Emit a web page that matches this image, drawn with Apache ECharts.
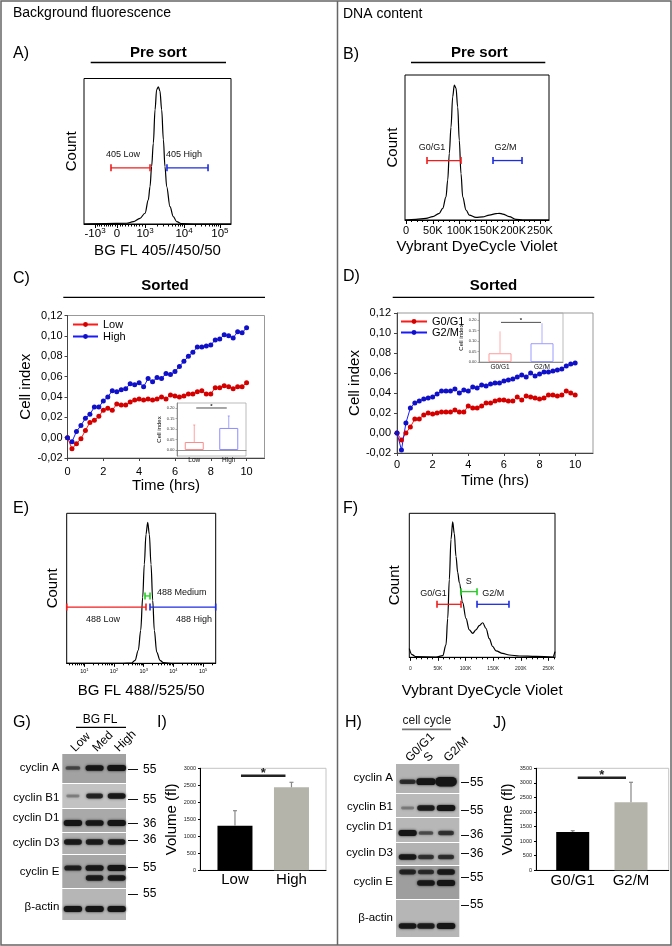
<!DOCTYPE html>
<html><head><meta charset="utf-8">
<script src="https://cdn.jsdelivr.net/npm/echarts@6/dist/echarts.min.js"></script>
<style>html,body{margin:0;padding:0;background:#fff}#c{width:672px;height:946px}</style>
</head><body><div id="c"></div><script>
const FONT = "'Liberation Sans', Arial, Helvetica, sans-serif";

// ---------- DATA ----------
// A) BG FL 405 histogram (display channel 0-1024)
const histA_ch    = [0, 150, 297, 344, 390, 425, 448, 460, 471, 483, 495, 506, 518, 529, 541, 553, 564, 576, 599, 622, 646, 681, 760, 1024];
const histA_count = [0, 0.3, 0.5, 1.6, 3.9, 7.4, 16.6, 25.7, 39.5, 55.6, 78.6, 92.4, 94.3, 91.3, 78.6, 57.9, 39.5, 25.7, 11.9, 5.1, 1.6, 0.2, 0, 0];
const tickA_ch  = [77, 230, 425, 697, 947];
const tickA_lbl = ['-10^3', '0', '10^3', '10^4', '10^5'];
const gateA_low  = [188, 460, 38.6];
const gateA_high = [578, 864, 38.6];
const gateA_text = [['405 Low', 272, 48], ['405 High', 697, 48]];

// B) DNA content pre sort (K units)
const histB_k     = [-2, 18.5, 37.2, 49.7, 62.1, 68.4, 74.6, 77.8, 80.8, 83.9, 87.1, 90.1, 93.3, 96.4, 99.4, 102.6, 105.8, 112, 118.1, 130.6, 143.1, 155.5, 168, 174.1, 180.5, 192.8, 205.3, 217.8, 267];
const histB_count = [0, 0.5, 1.1, 2.3, 4.6, 8.0, 16, 27.6, 46, 64, 85, 93, 91, 78, 55, 32, 16, 6.9, 3.4, 1.8, 2.1, 3.4, 4.4, 4.6, 4.1, 2.3, 0.5, 0, 0];
const tickK     = [0, 50, 100, 150, 200, 250];
const tickK_lbl = ['0', '50K', '100K', '150K', '200K', '250K'];
const gateB_g1 = [39.1, 102.6, 41];
const gateB_g2 = [162.4, 216.6, 41];
const gateB_text = [['G0/G1', 48.4, 49.7], ['G2/M', 185.6, 49.7]];

// C) Sorted by BG fluorescence - cell index
const timeHrs = [0, 0.25, 0.5, 0.75, 1, 1.25, 1.5, 1.75, 2, 2.25, 2.5, 2.75, 3, 3.25, 3.5, 3.75, 4, 4.25, 4.5, 4.75, 5, 5.25, 5.5, 5.75, 6, 6.25, 6.5, 6.75, 7, 7.25, 7.5, 7.75, 8, 8.25, 8.5, 8.75, 9, 9.25, 9.5, 9.75, 10];
const lowC  = [0.000, -0.011, -0.006, -0.001, 0.007, 0.015, 0.017, 0.021, 0.027, 0.029, 0.027, 0.033, 0.032, 0.032, 0.035, 0.037, 0.038, 0.037, 0.038, 0.037, 0.038, 0.040, 0.038, 0.042, 0.041, 0.040, 0.041, 0.043, 0.043, 0.045, 0.046, 0.043, 0.043, 0.049, 0.049, 0.051, 0.050, 0.048, 0.050, 0.050, 0.054];
const highC = [0.000, -0.004, 0.006, 0.012, 0.019, 0.023, 0.030, 0.030, 0.036, 0.040, 0.046, 0.045, 0.047, 0.048, 0.053, 0.052, 0.054, 0.050, 0.058, 0.055, 0.059, 0.058, 0.063, 0.062, 0.065, 0.070, 0.075, 0.080, 0.084, 0.089, 0.089, 0.090, 0.091, 0.096, 0.097, 0.101, 0.100, 0.098, 0.104, 0.103, 0.108];
const insetC_cats = ['Low', 'High'];
const insetC_mean = [0.038, 0.105];
const insetC_err  = [0.081, 0.057];
const insetC_sig  = 0.2;

// D) Sorted by DNA content - cell index
const g1D = [0, -0.007, 0.000, 0.006, 0.014, 0.014, 0.018, 0.020, 0.019, 0.020, 0.021, 0.021, 0.021, 0.023, 0.021, 0.021, 0.027, 0.025, 0.025, 0.027, 0.030, 0.030, 0.032, 0.033, 0.033, 0.032, 0.032, 0.036, 0.033, 0.037, 0.036, 0.035, 0.034, 0.035, 0.038, 0.038, 0.037, 0.038, 0.042, 0.040, 0.038];
const g2D = [0, -0.017, 0.010, 0.025, 0.030, 0.032, 0.034, 0.035, 0.036, 0.039, 0.042, 0.042, 0.042, 0.044, 0.040, 0.043, 0.042, 0.046, 0.045, 0.048, 0.047, 0.049, 0.050, 0.050, 0.052, 0.053, 0.054, 0.056, 0.058, 0.056, 0.060, 0.057, 0.059, 0.061, 0.061, 0.062, 0.063, 0.064, 0.067, 0.069, 0.070];
const insetD_cats = ['G0/G1', 'G2/M'];
const insetD_mean = [0.042, 0.090];
const insetD_err  = [0.105, 0.096];
const insetD_sig  = 0.19;

// E) BG FL 488 (log10 decades)
const histE_exp   = [0.407, 2.3, 2.596, 2.707, 2.818, 2.899, 2.966, 3.020, 3.077, 3.135, 3.189, 3.246, 3.303, 3.357, 3.438, 3.549, 3.660, 4.0, 5.424];
const histE_count = [0, 0, 0.2, 2.0, 8.7, 22, 44, 66, 86, 94, 86, 66, 42, 22, 7.5, 2.0, 0.4, 0, 0];
const tickE_exp = [1, 2, 3, 4, 5];
const gateE_low  = [0.407, 3.077, 37.5];
const gateE_med  = [3.044, 3.212, 44.9];
const gateE_high = [3.212, 5.424, 37.5];
const gateE_text = [['488 Medium', 4.28, 47.5], ['488 Low', 1.63, 29.5], ['488 High', 4.69, 29.5]];

// F) DNA content sorted
const histF_k     = [-2, 2.9, 10.1, 46.4, 58.5, 64.5, 67.6, 70.5, 73.6, 76.6, 79.5, 82.6, 85.7, 88.6, 94.7, 100.7, 106.7, 112.9, 118.8, 124.8, 131, 137, 142.9, 149.1, 155.1, 167.2, 179.2, 197.3, 227.5, 257.8, 262];
const histF_count = [6, 1.8, 0.4, 0.2, 1.1, 8.6, 27, 54, 82, 94, 86, 70, 59, 52, 38, 27, 19, 16.6, 19, 22, 24, 20, 13, 7.5, 4.5, 2.7, 1.6, 0.9, 0.6, 0.2, 4];
const gateF_g1 = [48.2, 91.7, 36.8];
const gateF_s  = [91.7, 120.7, 45.6];
const gateF_g2 = [120.7, 178.6, 36.8];
const gateF_text = [['G0/G1', 42, 44.4], ['S', 105.6, 52.5], ['G2/M', 150.2, 44.4]];

// G) western blot by BG FL (band intensity per lane)
const blotG_lanes = ['Low', 'Med', 'High'];
const blotG_rows  = ['cyclin A', 'cyclin B1', 'cyclin D1', 'cyclin D3', 'cyclin E', 'β-actin'];
const blotG_band  = [[0.35, 0.9, 1.05], [0.08, 0.7, 0.85], [0.95, 0.9, 0.95], [0.85, 0.8, 0.8], [0.75, 0.9, 0.95], [0.95, 0.95, 0.95]];
const blotG_band2 = [null, null, null, null, [0, 0.8, 0.85], null];
const blotG_mw    = ['55', '55', '36', '36', '55', '55'];

// H) western blot by cell cycle
const blotH_lanes = ['G0/G1', 'S', 'G2/M'];
const blotH_rows  = ['cyclin A', 'cyclin B1', 'cyclin D1', 'cyclin D3', 'cyclin E', 'β-actin'];
const blotH_band  = [[0.6, 1.2, 2.0], [0.08, 0.8, 1.0], [0.95, 0.35, 0.55], [0.85, 0.55, 0.6], [0.7, 0.6, 0.85], [0.85, 0.8, 1.0]];
const blotH_band2 = [null, null, null, null, [0, 0.85, 0.95], null];
const blotH_mw    = ['55', '55', '36', '36', '55', '55'];

// I) & J) cell volume
const volI_cats = ['Low', 'High'];
const volI_mean = [1312, 2441];
const volI_err  = [441, 147];
const volI_sig  = 2782;
const volJ_cats = ['G0/G1', 'G2/M'];
const volJ_mean = [1314, 2333];
const volJ_err  = [45, 687];
const volJ_sig  = 3177;

// ---------- LAYOUT (blot geometry, px from blot top) ----------
const layG = {
  lanes: [0.5, 1.52, 2.56],
  rowTop: [0, 30, 55, 79, 101, 135], rowH: [29, 24, 23, 21, 33, 31],
  pos1: [14, 42, 69, 88, 114, 155], pos2: [0, 0, 0, 0, 124, 0],
  labelY: [14.3, 44.3, 63.7, 89.3, 117.7, 153.3],
  mwY: [15.3, 45.3, 69.3, 86, 113.3, 140],
  bg: ['#a2a2a2', '#c2c2c2', '#a9a9a9', '#b0b0b0', '#a6a6a6', '#b6b6b6'], h: 166
};
const layH = {
  lanes: [0.55, 1.42, 2.37],
  rowTop: [0, 30, 54, 79, 102, 136], rowH: [29, 23, 24, 22, 33, 37],
  pos1: [17.7, 44, 69, 93, 108, 162], pos2: [0, 0, 0, 0, 119, 0],
  labelY: [14.3, 42.7, 62.7, 89.3, 117.7, 154.3],
  mwY: [18.7, 46.7, 71, 89.3, 113.3, 141],
  bg: ['#b3b3b3', '#bababa', '#b7b7b7', '#b2b2b2', '#9e9e9e', '#b6b6b6'], h: 173
};

// ---------- HELPERS ----------
const zip = (xs, ys) => xs.map((x, i) => [x, ys[i]]);
const idxOf = (arr, v) => arr.findIndex(a => Math.abs(a - v) < 1e-6);
const sup = s => { const p = s.split('^'); return p[1] ? `{b|${p[0]}}{s|${p[1]}}` : `{b|${p[0]}}`; };
const richOf = (b, s, pad) => ({ b: {fontSize: b, fontFamily: FONT, color: '#000', lineHeight: b + 1, padding: [pad, 0, 0, 0], verticalAlign: 'bottom'},
                                 s: {fontSize: s, fontFamily: FONT, color: '#000', lineHeight: s + 1, verticalAlign: 'top'} });
const nameStyle = (fs) => ({fontFamily: FONT, fontSize: fs || 15, color: '#000'});
const NOLINE = {show: false};

const minorA = (() => {
  const toCh = v => v < 0 ? 230 + v / 1000 * 153 : v <= 1000 ? 230 + v / 1000 * 195 : v <= 1e4 ? 425 + Math.log10(v / 1000) * 272 : 697 + Math.log10(v / 1e4) * 250;
  const out = [];
  for (let v = -900; v < 1000; v += 100) if (v !== 0) out.push(toCh(v));
  for (let k = 2; k < 10; k++) { out.push(toCh(k * 1000)); out.push(toCh(k * 1e4)); }
  return out;
})();
const minorK = (() => { const o = []; for (let k = 10; k <= 260; k += 10) if (k % 50) o.push(k); return o; })();
const minorE = (() => { const o = []; for (let d = 0; d <= 5; d++) for (let k = 2; k < 10; k++) { const e = d + Math.log10(k); if (e > 0.41 && e < 5.42) o.push(e); } return o; })();

function histSeries(xi, yi, xs, ys) {
  return {type: 'line', xAxisIndex: xi, yAxisIndex: yi, data: zip(xs, ys), smooth: 0.35, smoothMonotone: 'x',
          symbol: 'none', silent: true, lineStyle: {color: '#000', width: 1.2}, z: 3};
}
function gateSeries(xi, yi, range, color) {
  return {type: 'custom', xAxisIndex: xi, yAxisIndex: yi, data: [range], silent: true, z: 5,
    renderItem: (p, api) => {
      const a = api.coord([api.value(0), api.value(2)]);
      const b = api.coord([api.value(1), api.value(2)]);
      const h = 3.5;
      return {type: 'group', children: [
        {type: 'line', shape: {x1: a[0], y1: a[1], x2: b[0], y2: b[1]}, style: {stroke: color, lineWidth: 1.3}},
        {type: 'line', shape: {x1: a[0], y1: a[1] - h, x2: a[0], y2: a[1] + h}, style: {stroke: color, lineWidth: 1.6}},
        {type: 'line', shape: {x1: b[0], y1: b[1] - h, x2: b[0], y2: b[1] + h}, style: {stroke: color, lineWidth: 1.6}}
      ]};
    }};
}
function textSeries(xi, yi, items, fs) {
  return {type: 'custom', xAxisIndex: xi, yAxisIndex: yi, silent: true, z: 6,
    data: items.map(t => [t[1], t[2]]),
    renderItem: (p, api) => {
      const c = api.coord([api.value(0), api.value(1)]);
      return {type: 'text', x: c[0], y: c[1], style: {text: items[p.dataIndex][0], fontFamily: FONT, fontSize: fs, fill: '#111', align: 'center', verticalAlign: 'middle'}};
    }};
}
function errSeries(xi, yi, means, errs, colors, capW, lw) {
  return {type: 'custom', xAxisIndex: xi, yAxisIndex: yi, silent: true, z: 4,
    data: means.map((m, i) => [i, m, errs[i]]),
    renderItem: (p, api) => {
      const a = api.coord([api.value(0), api.value(1)]);
      const b = api.coord([api.value(0), api.value(1) + api.value(2)]);
      const st = {stroke: colors[p.dataIndex], lineWidth: lw};
      return {type: 'group', children: [
        {type: 'line', shape: {x1: a[0], y1: a[1], x2: b[0], y2: b[1]}, style: st},
        {type: 'line', shape: {x1: b[0] - capW, y1: b[1], x2: b[0] + capW, y2: b[1]}, style: st}]};
    }};
}
function sigSeries(xi, yi, level, inset, lw, fs, dy) {
  return {type: 'custom', xAxisIndex: xi, yAxisIndex: yi, silent: true, z: 6, data: [[0, level]],
    renderItem: (p, api) => {
      const a = api.coord([0, api.value(1)]);
      const b = api.coord([1, api.value(1)]);
      return {type: 'group', children: [
        {type: 'line', shape: {x1: a[0] + inset, y1: a[1], x2: b[0] - inset, y2: b[1]}, style: {stroke: '#222', lineWidth: lw}},
        {type: 'text', x: (a[0] + b[0]) / 2, y: a[1] - dy, style: {text: '*', fontFamily: FONT, fontSize: fs, fontWeight: 'bold', fill: '#222', align: 'center', verticalAlign: 'middle'}}
      ]};
    }};
}
function blotSeries(xi, yi, L, b1, b2) {
  return {type: 'custom', xAxisIndex: xi, yAxisIndex: yi, silent: true, z: 2,
    data: L.rowTop.map(t => [0, t]),
    renderItem: (p, api) => {
      const r = p.dataIndex;
      const tl = api.coord([0, L.rowTop[r]]);
      const br = api.coord([3, L.rowTop[r] + L.rowH[r]]);
      const kids = [{type: 'rect', shape: {x: tl[0], y: tl[1], width: br[0] - tl[0], height: br[1] - tl[1]}, style: {fill: L.bg[r]}}];
      const laneW = (br[0] - tl[0]) / 3;
      [[b1[r], L.pos1[r]], [b2[r], L.pos2[r]]].forEach(([ints, pos]) => {
        if (!ints) return;
        ints.forEach((v, k) => {
          if (!(v > 0)) return;
          const c = api.coord([L.lanes[k], pos]);
          const w = laneW * (0.6 + 0.28 * Math.min(v, 1)) + (v > 1 ? (v - 1) * 3 : 0);
          const h = Math.min(2.5 + 3.5 * v, L.rowH[r] - 4);
          kids.push({type: 'rect', shape: {x: c[0] - w / 2, y: c[1] - h / 2, width: w, height: h, r: h / 2},
            style: {fill: '#151515', opacity: Math.min(1, 0.2 + 0.85 * v), shadowBlur: 2.5, shadowColor: 'rgba(20,20,20,0.9)'}});
        });
      });
      return {type: 'group', children: kids};
    }};
}
function blotAxes(grid, L, rows, mw, tickLen, mwOff, mwMargin) {
  const base = {gridIndex: grid, type: 'value', min: 0, max: L.h, inverse: true, splitLine: NOLINE, axisLine: {show: false, onZero: false}};
  return [
    Object.assign({}, base, {position: 'left', axisTick: NOLINE,
      axisLabel: {customValues: L.labelY, margin: 3, fontSize: 11.5, fontFamily: FONT, color: '#000', formatter: v => rows[idxOf(L.labelY, v)]}}),
    Object.assign({}, base, {position: 'right', offset: mwOff,
      axisTick: {show: true, customValues: L.mwY, length: tickLen, lineStyle: {color: '#111', width: 1}},
      axisLabel: {customValues: L.mwY, margin: mwMargin, fontSize: 12, fontFamily: FONT, color: '#000', formatter: v => mw[idxOf(L.mwY, v)]}})
  ];
}
function laneAxis(grid, L, lanes) {
  return {gridIndex: grid, type: 'value', min: 0, max: 3, position: 'top', splitLine: NOLINE, axisLine: NOLINE, axisTick: NOLINE,
    axisLabel: {customValues: L.lanes, rotate: 45, margin: 4, fontSize: 12, fontFamily: FONT, color: '#000', formatter: v => lanes[idxOf(L.lanes, v)]}};
}
function minorAxis(grid, min, max, vals, len) {
  return {gridIndex: grid, type: 'value', min, max, position: 'bottom', splitLine: NOLINE, axisLine: {show: false, onZero: false}, axisLabel: NOLINE,
    axisTick: {show: true, customValues: vals, length: len, lineStyle: {color: '#000', width: 1}}};
}
function cellIdxX(grid, m) {
  return {gridIndex: grid, type: 'value', min: 0, max: 11, position: 'bottom', splitLine: NOLINE,
    axisLine: {show: true, onZero: false, lineStyle: {color: '#444'}},
    axisTick: {show: true, customValues: [0, 2, 4, 6, 8, 10], length: 3, lineStyle: {color: '#444'}},
    axisLabel: {customValues: [0, 2, 4, 6, 8, 10], margin: m, fontSize: 11, fontFamily: FONT, color: '#000'},
    name: 'Time (hrs)', nameLocation: 'middle', nameGap: 20, nameTextStyle: nameStyle(15)};
}
function cellIdxY(grid, m) {
  return {gridIndex: grid, type: 'value', min: -0.02, max: 0.12, interval: 0.02, splitLine: NOLINE,
    axisLine: {show: true, onZero: false, lineStyle: {color: '#444'}},
    axisTick: {show: true, length: 3, lineStyle: {color: '#444'}},
    axisLabel: {margin: m, fontSize: 11, fontFamily: FONT, color: '#000', formatter: v => v.toFixed(2).replace('.', ',')},
    name: 'Cell index', nameLocation: 'middle', nameGap: 26, nameTextStyle: nameStyle(15)};
}
function insetX(grid, cats, m) {
  return {gridIndex: grid, type: 'category', data: cats, splitLine: NOLINE,
    axisLine: {show: true, onZero: true, lineStyle: {color: '#777', width: 0.8}}, axisTick: NOLINE,
    axisLabel: {margin: m, fontSize: 6.5, fontFamily: FONT, color: '#111'}};
}
function insetY(grid, min, max, gap) {
  return {gridIndex: grid, type: 'value', min, max, splitLine: NOLINE,
    axisLine: {show: true, onZero: false, lineStyle: {color: '#777', width: 0.8}},
    axisTick: {show: true, customValues: [0, 0.05, 0.1, 0.15, 0.2], length: 1.5, lineStyle: {color: '#777', width: 0.6}},
    axisLabel: {customValues: [0, 0.05, 0.1, 0.15, 0.2], margin: 2.5, fontSize: 4, fontFamily: FONT, color: '#333', formatter: v => v.toFixed(2)},
    name: 'Cell index', nameLocation: 'middle', nameGap: gap, nameTextStyle: nameStyle(6)};
}
function insetBars(xi, yi, means, colors, bw) {
  return {type: 'bar', xAxisIndex: xi, yAxisIndex: yi, barWidth: bw, silent: true, z: 3,
    data: means.map((m, i) => ({value: m, itemStyle: {color: 'rgba(255,255,255,0)', borderColor: colors[i], borderWidth: 1}}))};
}
function volX(grid, cats, min, max, m) {
  return {gridIndex: grid, type: 'value', min, max, position: 'bottom', splitLine: NOLINE,
    axisLine: {show: true, onZero: false, lineStyle: {color: '#000'}}, axisTick: NOLINE,
    axisLabel: {customValues: [0, 1], margin: m, fontSize: 15, fontFamily: FONT, color: '#000', formatter: v => cats[Math.round(v)]}};
}
function volY(grid, max) {
  return {gridIndex: grid, type: 'value', min: 0, max, interval: 500, splitLine: NOLINE,
    axisLine: {show: true, onZero: false, lineStyle: {color: '#000'}},
    axisTick: {show: true, length: 2, lineStyle: {color: '#000'}},
    axisLabel: {margin: 4, fontSize: 5.5, fontFamily: FONT, color: '#222', formatter: v => String(Math.round(v))},
    name: 'Volume (fl)', nameLocation: 'middle', nameGap: 21, nameTextStyle: nameStyle(15)};
}
function volBars(xi, yi, means, bw) {
  return {type: 'bar', xAxisIndex: xi, yAxisIndex: yi, barWidth: bw, silent: true, z: 3,
    data: means.map((m, i) => ({value: [i, m], itemStyle: {color: i ? '#b4b4aa' : '#000'}}))};
}
const countY = (grid, gap) => ({gridIndex: grid, type: 'value', min: 0, max: 100, splitLine: NOLINE, axisLine: {show: false, onZero: false}, axisTick: NOLINE, axisLabel: NOLINE,
  name: 'Count', nameLocation: 'middle', nameGap: gap, nameTextStyle: nameStyle(15)});

const RED = '#f01c1c', BLUE = '#1c2ce0', GREEN = '#22d022';
const T = (text, x, y, size, o) => ({type: 'text', x, y, silent: true, style: Object.assign({text, fontFamily: FONT, fontSize: size, fill: '#000', align: 'left', verticalAlign: 'middle'}, o || {})});
const Lg = (x1, y1, x2, y2, w, c) => ({type: 'line', silent: true, shape: {x1, y1, x2, y2}, style: {stroke: c || '#000', lineWidth: w || 1.3}});
const BOLD = {fontWeight: 'bold', align: 'center'};

const option = {
  animation: false,
  backgroundColor: '#fff',
  textStyle: {fontFamily: FONT},
  grid: [
    {left: 84, top: 78.5, width: 147, height: 145.5, show: true, borderColor: '#000', borderWidth: 1},       // 0 A
    {left: 405, top: 75, width: 144, height: 145, show: true, borderColor: '#000', borderWidth: 1},          // 1 B
    {left: 67.5, top: 315.5, width: 197, height: 142.5, show: true, borderColor: '#999', borderWidth: 1},    // 2 C
    {left: 177, top: 403, width: 69, height: 53, show: true, borderColor: '#aaa', borderWidth: 0.8},         // 3 C inset
    {left: 397, top: 313, width: 196, height: 140, show: true, borderColor: '#999', borderWidth: 1},         // 4 D
    {left: 479, top: 313, width: 84, height: 49, show: true, borderColor: '#aaa', borderWidth: 0.8},         // 5 D inset
    {left: 66.7, top: 513.3, width: 149, height: 150, show: true, borderColor: '#000', borderWidth: 1},      // 6 E
    {left: 409.3, top: 513.3, width: 145.7, height: 144, show: true, borderColor: '#000', borderWidth: 1},   // 7 F
    {left: 62.3, top: 754, width: 63.7, height: 166},                                                         // 8 G blot
    {left: 200, top: 768.3, width: 126, height: 102, show: true, borderColor: '#c4c4c4', borderWidth: 1},    // 9 I
    {left: 396, top: 764, width: 63.3, height: 173},                                                          // 10 H blot
    {left: 536, top: 768.3, width: 132.7, height: 102, show: true, borderColor: '#c4c4c4', borderWidth: 1}   // 11 J
  ],
  xAxis: [
    {gridIndex: 0, type: 'value', min: 0, max: 1024, position: 'bottom', splitLine: NOLINE,
     axisLine: {show: true, onZero: false, lineStyle: {color: '#000'}},
     axisTick: {show: true, customValues: tickA_ch, length: 4, lineStyle: {color: '#000'}},
     axisLabel: {customValues: tickA_ch, margin: 3, formatter: v => sup(tickA_lbl[idxOf(tickA_ch, v)]), rich: richOf(11.5, 8, 5)},
     name: 'BG FL 405//450/50', nameLocation: 'middle', nameGap: 19, nameTextStyle: nameStyle(15)},              // 0
    minorAxis(0, 0, 1024, minorA, 2.5),                                                                          // 1
    {gridIndex: 1, type: 'value', min: -2, max: 267, position: 'bottom', splitLine: NOLINE,
     axisLine: {show: true, onZero: false, lineStyle: {color: '#000'}},
     axisTick: {show: true, customValues: tickK, length: 4, lineStyle: {color: '#000'}},
     axisLabel: {customValues: tickK, margin: 5, fontSize: 11, fontFamily: FONT, color: '#000', formatter: v => tickK_lbl[idxOf(tickK, v)]},
     name: 'Vybrant DyeCycle Violet', nameLocation: 'middle', nameGap: 19, nameTextStyle: nameStyle(15)},        // 2
    minorAxis(1, -2, 267, minorK, 2),                                                                            // 3
    cellIdxX(2, 8),                                                                                              // 4
    insetX(3, insetC_cats, 1),                                                                                   // 5
    cellIdxX(4, 6),                                                                                              // 6
    insetX(5, insetD_cats, 2),                                                                                   // 7
    {gridIndex: 6, type: 'value', min: 0.407, max: 5.424, position: 'bottom', splitLine: NOLINE,
     axisLine: {show: true, onZero: false, lineStyle: {color: '#000'}},
     axisTick: {show: true, customValues: tickE_exp, length: 3.5, lineStyle: {color: '#000'}},
     axisLabel: {customValues: tickE_exp, margin: 5, formatter: v => sup('10^' + Math.round(v)), rich: richOf(5.5, 4, 3)},
     name: 'BG FL 488//525/50', nameLocation: 'middle', nameGap: 20, nameTextStyle: nameStyle(15)},             // 8
    minorAxis(6, 0.407, 5.424, minorE, 2),                                                                       // 9
    {gridIndex: 7, type: 'value', min: -2, max: 262, position: 'bottom', splitLine: NOLINE,
     axisLine: {show: true, onZero: false, lineStyle: {color: '#000'}},
     axisTick: {show: true, customValues: tickK, length: 3.5, lineStyle: {color: '#000'}},
     axisLabel: {customValues: tickK, margin: 9, fontSize: 5, fontFamily: FONT, color: '#222', formatter: v => tickK_lbl[idxOf(tickK, v)]},
     name: 'Vybrant DyeCycle Violet', nameLocation: 'middle', nameGap: 26, nameTextStyle: nameStyle(15)},        // 10
    minorAxis(7, -2, 262, minorK, 2),                                                                            // 11
    laneAxis(8, layG, blotG_lanes),                                                                              // 12
    volX(9, volI_cats, -0.619, 1.611, 2),                                                                        // 13
    laneAxis(10, layH, blotH_lanes),                                                                             // 14
    volX(11, volJ_cats, -0.63, 1.647, 3)                                                                         // 15
  ],
  yAxis: [
    countY(0, 5),                                   // 0 A
    countY(1, 5),                                   // 1 B
    cellIdxY(2, 5),                                 // 2 C
    insetY(3, -0.0286, 0.2238, 11),                 // 3 C inset
    cellIdxY(4, 6),                                 // 4 D
    insetY(5, 0, 0.235, 13),                        // 5 D inset
    countY(6, 6),                                   // 6 E
    countY(7, 6.5),                                 // 7 F
    ...blotAxes(8, layG, blotG_rows, blotG_mw, 10, 2, 15),   // 8, 9
    volY(9, 3000),                                  // 10 I
    ...blotAxes(10, layH, blotH_rows, blotH_mw, 8, 1.7, 9),  // 11, 12
    volY(11, 3500)                                  // 13 J
  ],
  legend: [
    {data: ['Low', 'High'], left: 72, top: 319, orient: 'vertical', itemWidth: 25, itemHeight: 6, itemGap: 1, padding: 0,
     textStyle: {fontSize: 11, fontFamily: FONT, color: '#000'}},
    {data: ['G0/G1', 'G2/M'], left: 400, top: 316, orient: 'vertical', itemWidth: 26, itemHeight: 6, itemGap: 0, padding: 0,
     textStyle: {fontSize: 11, fontFamily: FONT, color: '#000'}}
  ],
  series: [
    // A
    histSeries(0, 0, histA_ch, histA_count),
    gateSeries(0, 0, gateA_low, RED), gateSeries(0, 0, gateA_high, BLUE),
    textSeries(0, 0, gateA_text, 9),
    // B
    histSeries(2, 1, histB_k, histB_count),
    gateSeries(2, 1, gateB_g1, RED), gateSeries(2, 1, gateB_g2, BLUE),
    textSeries(2, 1, gateB_text, 9),
    // C
    {name: 'Low', type: 'line', xAxisIndex: 4, yAxisIndex: 2, data: zip(timeHrs, lowC), symbol: 'circle', symbolSize: 5,
     itemStyle: {color: '#d40000'}, lineStyle: {color: '#ff1a1a', width: 1}, z: 3},
    {name: 'High', type: 'line', xAxisIndex: 4, yAxisIndex: 2, data: zip(timeHrs, highC), symbol: 'circle', symbolSize: 5,
     itemStyle: {color: '#1010c8'}, lineStyle: {color: '#1a1aff', width: 1}, z: 3},
    insetBars(5, 3, insetC_mean, ['#ff8c8c', '#8c8cff'], 19),
    errSeries(5, 3, insetC_mean, insetC_err, ['#ff8c8c', '#8c8cff'], 1, 0.8),
    sigSeries(5, 3, insetC_sig, 2, 0.8, 6, 2),
    // D
    {name: 'G0/G1', type: 'line', xAxisIndex: 6, yAxisIndex: 4, data: zip(timeHrs, g1D), symbol: 'circle', symbolSize: 5,
     itemStyle: {color: '#d40000'}, lineStyle: {color: '#ff1a1a', width: 1}, z: 3},
    {name: 'G2/M', type: 'line', xAxisIndex: 6, yAxisIndex: 4, data: zip(timeHrs, g2D), symbol: 'circle', symbolSize: 5,
     itemStyle: {color: '#1010c8'}, lineStyle: {color: '#1a1aff', width: 1}, z: 3},
    insetBars(7, 5, insetD_mean, ['#ff9a9a', '#9a9aff'], 23),
    errSeries(7, 5, insetD_mean, insetD_err, ['#ff9a9a', '#9a9aff'], 0, 0.8),
    sigSeries(7, 5, insetD_sig, 1, 0.8, 6, 2),
    // E
    histSeries(8, 6, histE_exp, histE_count),
    gateSeries(8, 6, gateE_low, RED), gateSeries(8, 6, gateE_high, BLUE), gateSeries(8, 6, gateE_med, GREEN),
    textSeries(8, 6, gateE_text, 9),
    // F
    histSeries(10, 7, histF_k, histF_count),
    gateSeries(10, 7, gateF_g1, RED), gateSeries(10, 7, gateF_s, GREEN), gateSeries(10, 7, gateF_g2, BLUE),
    textSeries(10, 7, gateF_text, 9),
    // G / H blots
    blotSeries(12, 8, layG, blotG_band, blotG_band2),
    blotSeries(14, 11, layH, blotH_band, blotH_band2),
    // I
    volBars(13, 10, volI_mean, 35),
    errSeries(13, 10, volI_mean, volI_err, ['#888', '#888'], 2, 1.2),
    sigSeries(13, 10, volI_sig, 6, 2.5, 13, 2),
    // J
    volBars(15, 13, volJ_mean, 33),
    errSeries(15, 13, volJ_mean, volJ_err, ['#888', '#888'], 2, 1.2),
    sigSeries(15, 13, volJ_sig, 5, 2.5, 13, 2)
  ],
  graphic: {elements: [
    {type: 'rect', silent: true, shape: {x: 1, y: 1, width: 670, height: 944}, style: {fill: 'none', stroke: '#666', lineWidth: 1.5}},
    Lg(337.5, 1, 337.5, 945, 1.5, '#666'),
    T('Background fluorescence', 13, 13, 14),
    T('DNA content', 343, 14, 14),
    T('A)', 13, 54, 16), T('B)', 343, 55, 16),
    T('Pre sort', 158.3, 52.5, 15, BOLD), Lg(90.7, 62.5, 226, 62.5),
    T('Pre sort', 479.3, 52.5, 15, BOLD), Lg(411, 62.5, 545.3, 62.5),
    T('C)', 13, 278.5, 16), T('D)', 343, 277, 16),
    T('Sorted', 165, 286, 15, BOLD), Lg(63.3, 297.3, 265, 297.3),
    T('Sorted', 493.5, 286, 15, BOLD), Lg(392.7, 297.3, 594.3, 297.3),
    T('E)', 13, 509, 16), T('F)', 343, 509, 16),
    T('G)', 13, 723, 16), T('I)', 157, 723, 16), T('H)', 345, 723, 16), T('J)', 493, 724, 16),
    T('BG FL', 100, 719.3, 12, {align: 'center'}), Lg(76, 727.3, 126, 727.3, 1.2),
    T('cell cycle', 426.8, 720.7, 12, {align: 'center', fill: '#222'}), Lg(402, 729.3, 451, 729.3, 1.8, '#777')
  ]}
};

const chart = echarts.init(document.getElementById('c'), null, {renderer: 'canvas', width: 672, height: 946});
chart.setOption(option);
</script></body></html>
